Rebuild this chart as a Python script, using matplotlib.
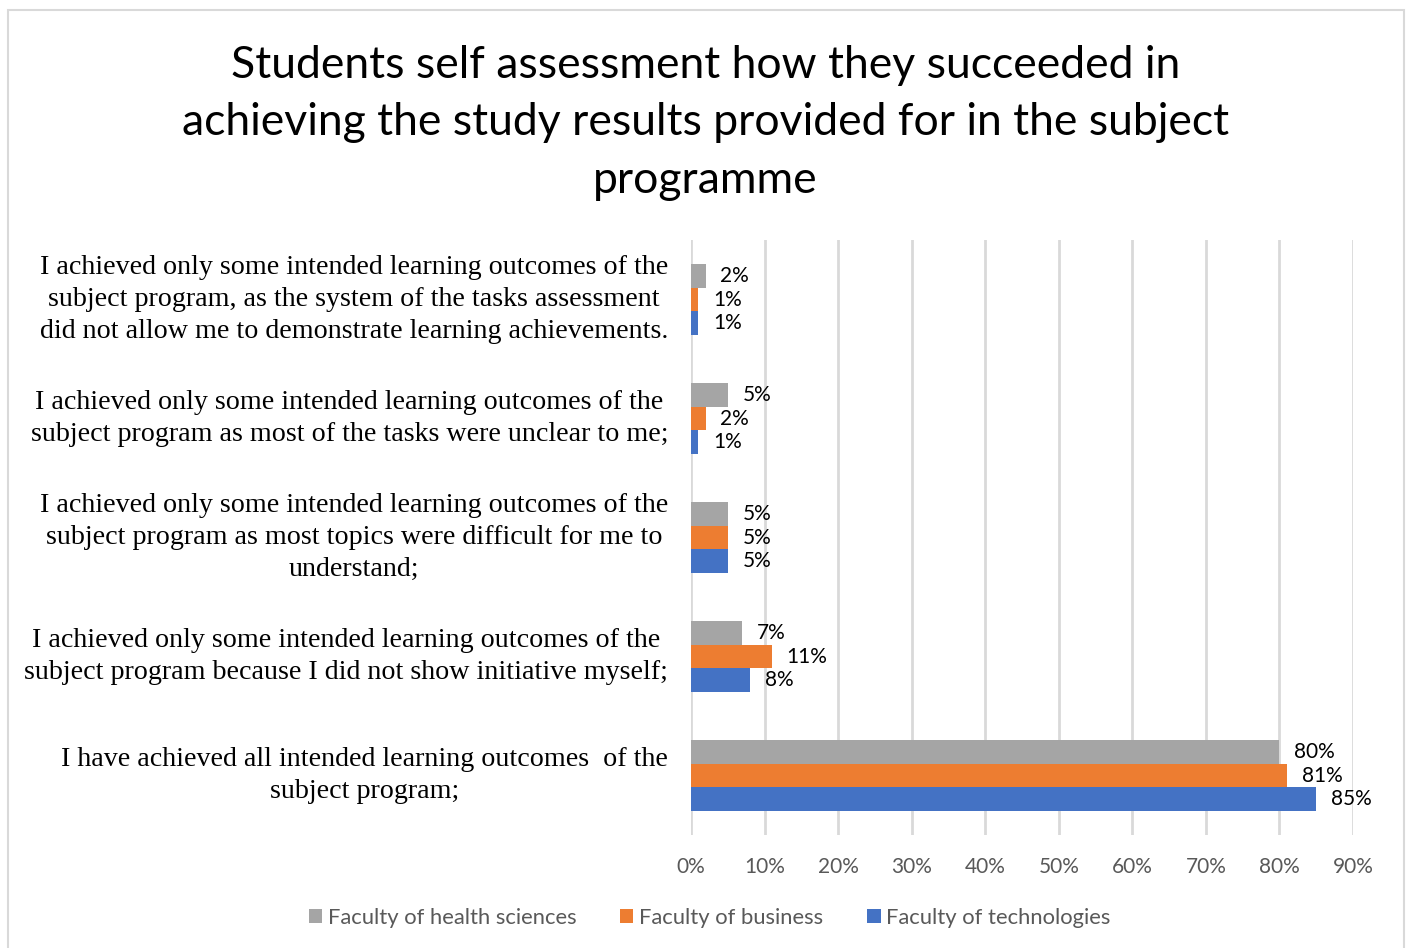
import matplotlib.pyplot as plt
from matplotlib.patches import Rectangle
import numpy as np

categories = [
    "I achieved only some intended learning outcomes of the\nsubject program, as the system of the tasks assessment\ndid not allow me to demonstrate learning achievements.",
    "I achieved only some intended learning outcomes of the\nsubject program as most of the tasks were unclear to me;",
    "I achieved only some intended learning outcomes of the\nsubject program as most topics were difficult for me to\nunderstand;",
    "I achieved only some intended learning outcomes of the\nsubject program because I did not show initiative myself;",
    "I have achieved all intended learning outcomes  of the\nsubject program;",
]
health = [2, 5, 5, 7, 80]
business = [1, 2, 5, 11, 81]
technologies = [1, 1, 5, 8, 85]
series_names = ["Faculty of health sciences", "Faculty of business", "Faculty of technologies"]
colors = ["#A5A5A5", "#ED7D31", "#4472C4"]

sans = ["Lato", "DejaVu Sans"]
serif = ["Liberation Serif", "DejaVu Serif"]

fig = plt.figure(figsize=(14.11, 9.48), dpi=100)
ax = fig.add_axes([0.4897, 0.1192, 0.4692, 0.6276])

# рамка вокруг диаграммы
fig.patches.append(Rectangle((8 / 1411, -0.05), (1404 - 8) / 1411, 1.05 - 10 / 948,
                             transform=fig.transFigure, fill=False,
                             edgecolor="#D9D9D9", linewidth=1.5))

y = np.arange(len(categories))
h = 0.2
for vals, off, col, name in zip([health, business, technologies], [-h, 0, h], colors, series_names):
    bars = ax.barh(y + off, vals, height=h, color=col, label=name)
    for b, v in zip(bars, vals):
        ax.text(b.get_width() + 2.0, b.get_y() + h / 2, f"{v}%", va="center", ha="left",
                fontsize=15, family=sans, color="black")

ax.set_xlim(0, 90)
ax.set_ylim(-0.5, len(categories) - 0.5)
ax.invert_yaxis()
ax.set_xticks(np.arange(0, 91, 10))
ax.set_xticklabels([f"{t}%" for t in range(0, 91, 10)], family=sans, fontsize=15, color="#595959")
ax.set_yticks(y)
ax.set_yticklabels(categories, family=serif, fontsize=20.2, multialignment="center",
                   linespacing=1.35, va="center")
ax.tick_params(axis="y", length=0, pad=16.5)
ax.tick_params(axis="x", length=0, pad=16)
ax.grid(axis="x", color="#D9D9D9", linewidth=2)
ax.set_axisbelow(True)
for s in ax.spines.values():
    s.set_visible(False)

fig.suptitle("Students self assessment how they succeeded in\nachieving the study results provided for in the subject\nprogramme",
             x=0.5, y=0.953, fontsize=32, family=sans, color="black", linespacing=1.5)

leg = fig.legend(loc="center", bbox_to_anchor=(0.503, 0.032), ncol=3, frameon=False,
                 prop={"family": sans, "size": 15.8}, handlelength=0.6, handleheight=0.6,
                 columnspacing=2.0, handletextpad=0.27)
for t in leg.get_texts():
    t.set_color("#595959")

plt.savefig("out.png", dpi=100)
